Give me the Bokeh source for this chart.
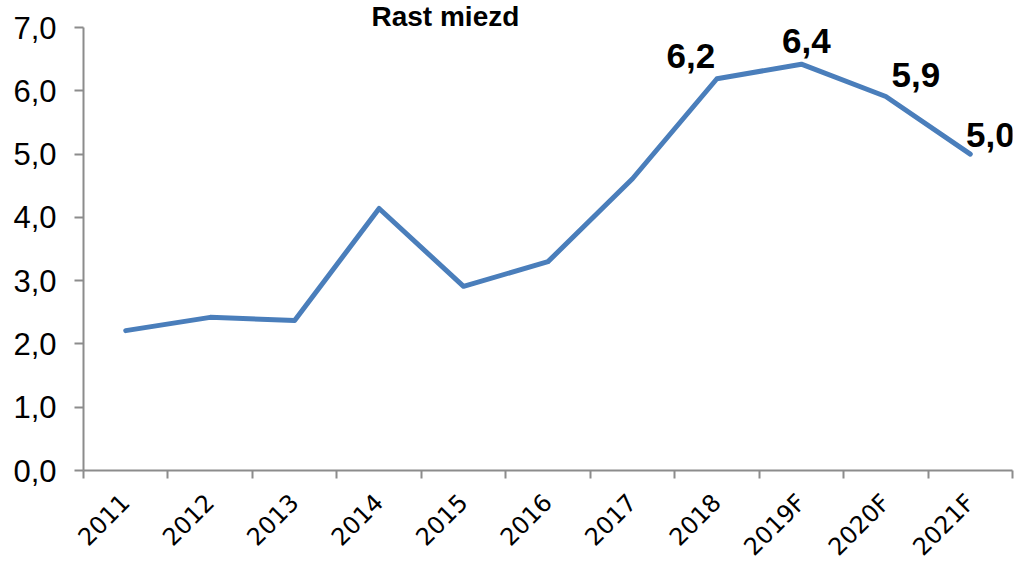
from bokeh.plotting import figure
from bokeh.models import Range1d, FixedTicker, ColumnDataSource
from bokeh.core.properties import value
from bokeh.embed import file_html
from bokeh.resources import INLINE

# ---- data ----
years = ["2011", "2012", "2013", "2014", "2015", "2016", "2017", "2018", "2019F", "2020F", "2021F"]
growth = [2.21, 2.42, 2.37, 4.14, 2.91, 3.30, 4.61, 6.19, 6.42, 5.91, 5.0]
label_values = ["6,2", "6,4", "5,9", "5,0"]
y_ticks = [0, 1, 2, 3, 4, 5, 6, 7]
y_tick_labels = ["0,0", "1,0", "2,0", "3,0", "4,0", "5,0", "6,0", "7,0"]
labelled_from = 7  # data labels shown from 2018 onwards
title_text = "Rast miezd"

# ---- positions on a numeric axis (category centres) ----
xs = [i + 0.5 for i in range(len(years))]
bounds = list(range(len(years) + 1))

p = figure(frame_width=929, frame_height=443, output_backend="svg", toolbar_location=None,
           x_range=Range1d(0, len(years)), y_range=Range1d(0, 7),
           min_border_left=83, min_border_right=3, min_border_top=27, min_border_bottom=60)
p.outline_line_color = None
p.xgrid.visible = False
p.ygrid.visible = False
p.background_fill_color = "white"
p.border_fill_color = "white"

# title
p.title.text = title_text
p.title.align = "left"
p.title.offset = 288
p.title.standoff = -9
p.title.text_font = "Liberation Sans"
p.title.text_font_style = "bold"
p.title.text_font_size = "28px"
p.title.text_color = "black"

axis_color = "#8c8c8c"

# x axis: labels at centres, tick marks at category boundaries (minor ticks)
xa = p.xaxis[0]
xa.ticker = FixedTicker(ticks=xs, minor_ticks=bounds)
xa.major_label_overrides = {x: y for x, y in zip(xs, years)}
xa.major_label_orientation = 0.785398
xa.major_tick_out = 0
xa.major_tick_in = 0
xa.minor_tick_out = 8
xa.minor_tick_in = 0
xa.minor_tick_line_color = axis_color
xa.minor_tick_line_width = 2
xa.axis_line_color = axis_color
xa.axis_line_width = 2
xa.major_label_text_font = "DejaVu Sans"
xa.major_label_text_font_size = "24px"
xa.major_label_text_color = "black"
xa.major_label_standoff = 20

ya = p.yaxis[0]
ya.ticker = FixedTicker(ticks=y_ticks, minor_ticks=[])
ya.major_label_overrides = {t: l for t, l in zip(y_ticks, y_tick_labels)}
ya.major_tick_out = 9
ya.major_tick_in = 0
ya.major_tick_line_color = axis_color
ya.major_tick_line_width = 2
ya.axis_line_color = axis_color
ya.axis_line_width = 2
ya.major_label_text_font = "Liberation Sans"
ya.major_label_text_font_size = "31px"
ya.major_label_text_color = "black"
ya.major_label_standoff = 18

# line
p.line(xs, growth, line_color="#4A7EBB", line_width=5, line_join="round", line_cap="round")

# data labels
lab_x = xs[labelled_from:]
lab_y = growth[labelled_from:]
lab_dx = [-26, 5, 30, 20]
lab_dy = [-23, -23, -21, -19]
src = ColumnDataSource(dict(x=lab_x, y=lab_y, t=label_values, dx=lab_dx, dy=lab_dy))
p.text(x="x", y="y", text="t", source=src, x_offset="dx", y_offset="dy",
       text_font=value("Liberation Sans"), text_font_style="bold", text_font_size="35px",
       text_align="center", text_baseline="alphabetic", text_color="black")

open("out.html", "w").write(file_html(p, INLINE))
